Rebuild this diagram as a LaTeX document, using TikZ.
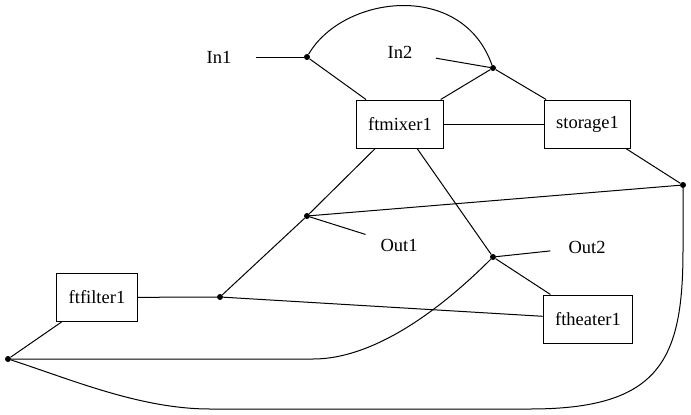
\documentclass[tikz,border=0pt]{standalone}
\usepackage{fontspec}
\setmainfont{Liberation Serif}
\usetikzlibrary{shapes.geometric}
\begin{document}
\begin{tikzpicture}[x=1pt,y=-1pt,
  box/.style={draw, line width=1pt, rectangle, minimum height=48pt, inner xsep=12pt, inner ysep=4pt, font=\fontsize{18.5}{20}\selectfont},
  lbl/.style={ellipse, minimum width=74pt, minimum height=48pt, inner sep=0pt, font=\fontsize{18.5}{20}\selectfont},
  dot/.style={circle, fill=black, inner sep=0pt, minimum size=6pt},
  conn/.style={line width=1pt}]
\useasboundingbox (0,0) rectangle (691,415);

% boxes
\node[box] (mixer) at (400,124) {ftmixer1};
\node[box] (storage) at (587.5,124) {storage1};
\node[box] (filter) at (97,297.5) {ftfilter1};
\node[box] (heater) at (588,319) {ftheater1};

% labels
\node[lbl] (in1) at (219,57) {In1};
\node[lbl] (in2) at (400,52) {In2};
\node[lbl] (out1) at (399,245) {Out1};
\node[lbl] (out2) at (587,247) {Out2};

% junctions
\node[dot] (j1) at (307,57) {};
\node[dot] (j2) at (493,68) {};
\node[dot] (j3) at (683,185) {};
\node[dot] (j4) at (307,216) {};
\node[dot] (j5) at (493,257) {};
\node[dot] (j6) at (8,359) {};
\node[dot] (j7) at (220,297) {};

% waypoints
\coordinate (w1) at (313,359);
\coordinate (w2) at (210,409);
\coordinate (w3) at (530,409);
\coordinate (w4) at (683,250);

\draw[conn] (in1) -- (j1);
\draw[conn] (j1) -- (mixer);
\draw[conn] (j1) .. controls (343,-5) and (462,-20) .. (j2);
\draw[conn] (in2) -- (j2);
\draw[conn] (j2) -- (mixer);
\draw[conn] (j2) -- (storage);
\draw[conn] (mixer) -- (storage);
\draw[conn] (storage) -- (j3);
\draw[conn] (mixer) -- (j4);
\draw[conn] (mixer) -- (j5);
\draw[conn] (j4) -- (j3);
\draw[conn] (j4) -- (out1);
\draw[conn] (j4) -- (j7);
\draw[conn] (filter) -- (j7);
\draw[conn] (j7) -- (heater);
\draw[conn] (filter) -- (j6);
\draw[conn] (j5) -- (out2);
\draw[conn] (j5) -- (heater);
\draw[conn] (j6) -- (w1) .. controls (380,359) and (450,300) .. (j5);
\draw[conn] (j6) .. controls (70,379) and (140,409) .. (w2) -- (w3) .. controls (660,409) and (683,360) .. (w4) -- (j3);
\end{tikzpicture}
\end{document}
